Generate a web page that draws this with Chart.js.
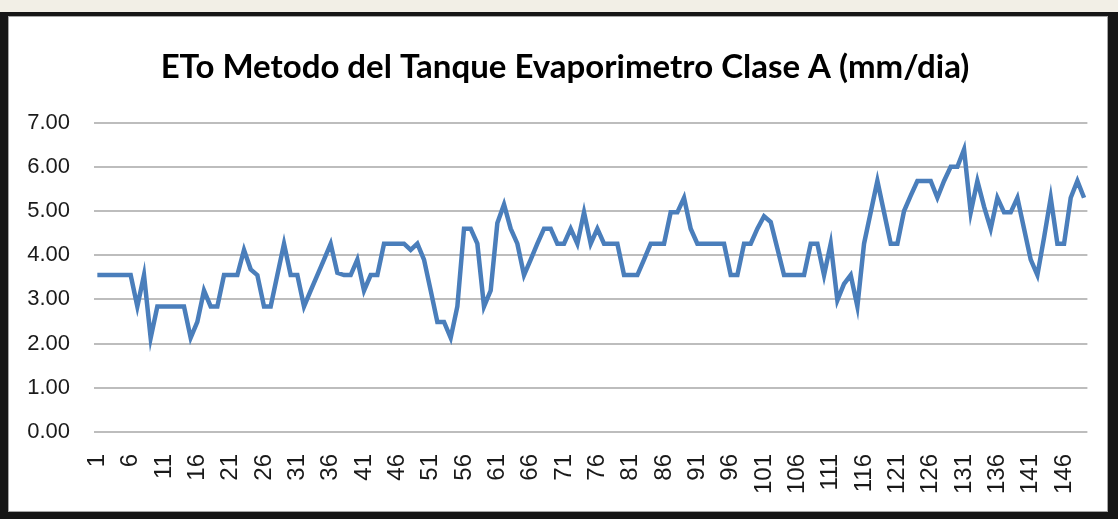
<!DOCTYPE html>
<html>
<head>
<meta charset="utf-8">
<script src="https://cdn.jsdelivr.net/npm/chart.js@4.4.1/dist/chart.umd.min.js"></script>
<style>
  html, body { margin: 0; padding: 0; }
  body { width: 1118px; height: 519px; background: #f2efe6; position: relative; overflow: hidden; }
  #frame { position: absolute; left: 0; top: 12px; width: 1118px; height: 507px; background: #161616; }
  #box { position: absolute; left: 8px; top: 4px; width: 1100px; height: 496px; background: #fff; border: 1px solid #a6a6a6; box-sizing: border-box; overflow: hidden; }
  #box canvas { display: block; }
</style>
</head>
<body>
<div id="frame">
  <div id="box"><canvas id="etoChart" width="1126" height="494"></canvas></div>
</div>
<script>
// ETo daily values (mm/dia), days 1..149
const etoValues = [
  3.55, 3.55, 3.55, 3.55, 3.55, 3.55, 2.84, 3.55, 2.13, 2.84,
  2.84, 2.84, 2.84, 2.84, 2.13, 2.49, 3.20, 2.84, 2.84, 3.55,
  3.55, 3.55, 4.12, 3.68, 3.55, 2.84, 2.84, 3.55, 4.26, 3.55,
  3.55, 2.84, 3.20, 3.55, 3.90, 4.26, 3.60, 3.55, 3.55, 3.90,
  3.20, 3.55, 3.55, 4.26, 4.26, 4.26, 4.26, 4.12, 4.26, 3.90,
  3.20, 2.49, 2.49, 2.13, 2.84, 4.60, 4.60, 4.26, 2.84, 3.20,
  4.73, 5.15, 4.60, 4.26, 3.55, 3.90, 4.26, 4.60, 4.60, 4.26,
  4.26, 4.60, 4.26, 4.97, 4.26, 4.60, 4.26, 4.26, 4.26, 3.55,
  3.55, 3.55, 3.90, 4.26, 4.26, 4.26, 4.97, 4.97, 5.30, 4.60,
  4.26, 4.26, 4.26, 4.26, 4.26, 3.55, 3.55, 4.26, 4.26, 4.60,
  4.88, 4.75, 4.15, 3.55, 3.55, 3.55, 3.55, 4.26, 4.26, 3.55,
  4.26, 2.98, 3.35, 3.55, 2.84, 4.26, 4.97, 5.68, 4.97, 4.26,
  4.26, 5.00, 5.35, 5.68, 5.68, 5.68, 5.30, 5.68, 6.00, 6.00,
  6.39, 4.97, 5.68, 5.10, 4.60, 5.30, 4.97, 4.97, 5.30, 4.60,
  3.90, 3.55, 4.40, 5.30, 4.26, 4.26, 5.30, 5.68, 5.30
];

// day numbers on the category axis
const dayLabels = [];
for (let d = 1; d <= etoValues.length; d++) {
  dayLabels.push(String(d));
}

// y axis range and step
const yMin = 0;
const yMax = 7;
const yStep = 1;

const chartTitle = 'ETo Metodo del Tanque Evaporimetro Clase A (mm/dia)';

const ctx = document.getElementById('etoChart').getContext('2d');

new Chart(ctx, {
  type: 'line',
  data: {
    labels: dayLabels,
    datasets: [{
      label: 'ETo',
      data: etoValues,
      borderColor: '#4a7ebb',
      borderWidth: 4.5,
      pointRadius: 0,
      tension: 0,
      fill: false
    }]
  },
  options: {
    responsive: false,
    animation: false,
    layout: {
      padding: { left: 0, right: 14, top: 0, bottom: 0 }
    },
    plugins: {
      legend: { display: false },
      tooltip: { enabled: false },
      title: {
        display: true,
        text: chartTitle,
        color: '#000',
        font: { family: 'Lato', size: 33, weight: 'bold' },
        padding: { top: 31, bottom: 35 }
      }
    },
    scales: {
      x: {
        offset: true,
        grid: { display: false, drawTicks: false },
        border: { display: false },
        afterFit: function(scale) { scale.height = 79; },
        ticks: {
          autoSkip: false,
          maxRotation: 90,
          minRotation: 90,
          padding: 22,
          color: '#1a1a1a',
          font: { family: 'Liberation Sans', size: 24 },
          callback: function(value, index) {
            return index % 5 === 0 ? dayLabels[index] : '';
          }
        }
      },
      y: {
        min: yMin,
        max: yMax,
        border: { display: false },
        grid: { color: '#bdbdbd', lineWidth: 2, drawTicks: false },
        afterFit: function(scale) { scale.width = 85; },
        ticks: {
          stepSize: yStep,
          padding: 24,
          color: '#1a1a1a',
          font: { family: 'Liberation Sans', size: 22 },
          callback: function(value) {
            return value.toFixed(2);
          }
        }
      },
      // empty right-hand spacer: keeps the plot edge while the title stays centred on the box
      yRight: {
        position: 'right',
        min: yMin,
        max: yMax,
        border: { display: false },
        grid: { display: false, drawTicks: false },
        ticks: { display: false },
        afterFit: function(scale) { scale.width = 29; }
      }
    }
  }
});
</script>
</body>
</html>
